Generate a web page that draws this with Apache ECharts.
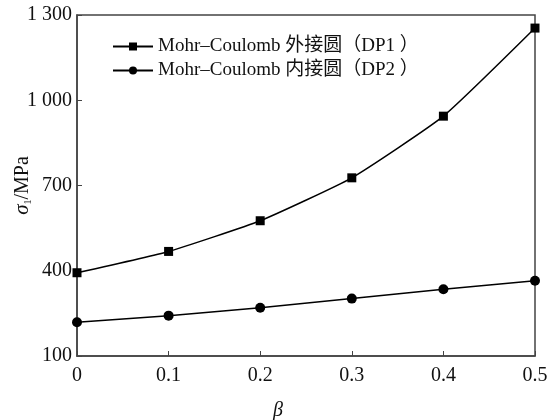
<!DOCTYPE html>
<html>
<head>
<meta charset="utf-8">
<script src="https://cdn.jsdelivr.net/npm/echarts@6/dist/echarts.min.js"></script>
<style>
  html, body { margin: 0; padding: 0; background: #fff; }
  #main { width: 550px; height: 420px; }
</style>
</head>
<body>
<div id="main"></div>
<script>
// beta 取值
var betaValues = [0, 0.1, 0.2, 0.3, 0.4, 0.5];
// 外接圆 DP1
var dp1Values = [393, 468, 576, 727, 944, 1254];
// 内接圆 DP2
var dp2Values = [219, 242, 270, 302, 335, 365];
var seriesNames = ['Mohr\u2013Coulomb 外接圆（DP1 ）', 'Mohr\u2013Coulomb 内接圆（DP2 ）'];

var serifFont = '"Liberation Serif", "Noto Sans CJK SC", serif';
var axisColor = '#444';

function pairUp(xs, ys) {
    var res = [];
    for (var i = 0; i < xs.length; i++) {
        res.push([xs[i], ys[i]]);
    }
    return res;
}

var myChart = echarts.init(document.getElementById('main'));

var option = {
    animation: false,
    grid: {
        left: 77,
        right: 15,
        top: 15,
        bottom: 64,
        outerBoundsMode: 'none',
        containLabel: false,
        show: true,
        borderColor: axisColor,
        borderWidth: 1.5
    },
    legend: {
        orient: 'vertical',
        left: 112,
        top: 37,
        padding: 0,
        itemWidth: 40,
        itemHeight: 10,
        itemGap: 5,
        data: seriesNames,
        textStyle: {
            fontFamily: serifFont,
            fontSize: 19,
            color: '#111'
        }
    },
    xAxis: {
        type: 'value',
        min: 0,
        max: 0.5,
        interval: 0.1,
        name: 'β',
        nameLocation: 'middle',
        nameGap: 45,
        nameMoveOverlap: false,
        nameTextStyle: {
            fontFamily: serifFont,
            fontStyle: 'italic',
            fontSize: 20,
            color: '#111',
            padding: [0, 56, 0, 0]
        },
        axisLine: { lineStyle: { color: axisColor, width: 1.5 } },
        axisTick: { inside: true, length: 5, lineStyle: { color: axisColor } },
        splitLine: { show: false },
        axisLabel: {
            fontFamily: serifFont,
            fontSize: 20,
            color: '#111',
            margin: 10
        }
    },
    yAxis: {
        type: 'value',
        min: 100,
        max: 1300,
        interval: 300,
        name: '{s|σ}{sub|1}/MPa',
        nameLocation: 'middle',
        nameGap: 44,
        nameMoveOverlap: false,
        nameTextStyle: {
            fontFamily: serifFont,
            fontSize: 20,
            color: '#111',
            rich: {
                s: { fontFamily: serifFont, fontStyle: 'italic', fontSize: 21, color: '#111' },
                sub: { fontFamily: serifFont, fontSize: 10, color: '#111', verticalAlign: 'bottom', padding: [7, 0, 0, 0] }
            }
        },
        axisLine: { show: true, lineStyle: { color: axisColor, width: 1.5 } },
        axisTick: { show: true, inside: true, length: 5, lineStyle: { color: axisColor } },
        splitLine: { show: false },
        axisLabel: {
            fontFamily: serifFont,
            fontSize: 20,
            color: '#111',
            margin: 5,
            formatter: function (v) {
                return v >= 1000 ? Math.floor(v / 1000) + ' ' + String(v % 1000).padStart(3, '0') : String(v);
            }
        }
    },
    series: [
        {
            name: seriesNames[0],
            type: 'line',
            data: pairUp(betaValues, dp1Values),
            smooth: 0.15,
            symbol: 'rect',
            symbolSize: 9,
            lineStyle: { color: '#000', width: 1.5 },
            itemStyle: { color: '#000' }
        },
        {
            name: seriesNames[1],
            type: 'line',
            data: pairUp(betaValues, dp2Values),
            symbol: 'circle',
            symbolSize: 10,
            lineStyle: { color: '#000', width: 1.5 },
            itemStyle: { color: '#000' }
        }
    ]
};

myChart.setOption(option);
</script>
</body>
</html>
